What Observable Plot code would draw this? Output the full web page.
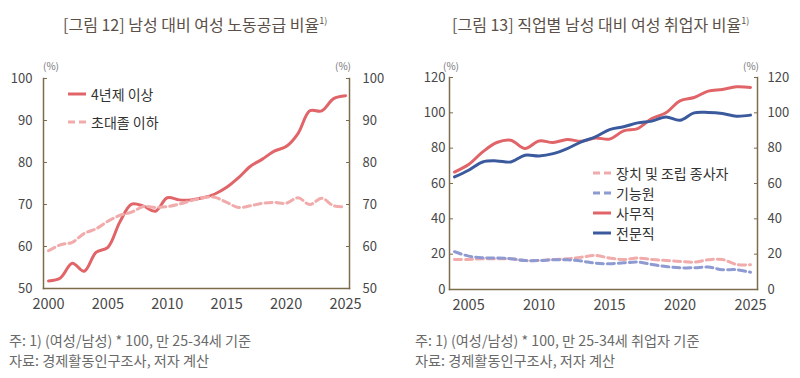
<!DOCTYPE html>
<html><head><meta charset="utf-8">
<script src="https://cdn.jsdelivr.net/npm/d3@7"></script>
<script src="https://cdn.jsdelivr.net/npm/@observablehq/plot@0.6"></script>
<style>
html,body{margin:0;padding:0;background:#fff}
body{width:800px;height:378px;position:relative;overflow:hidden;font-family:"Noto Sans CJK KR","Noto Sans",sans-serif}
.abs{position:absolute;white-space:nowrap}
.title{font-size:16px;color:#5b5048;top:13px;line-height:22px}
.title sup{font-size:9px;vertical-align:7px;line-height:0}
.note{font-size:14.2px;color:#6a6a6a;line-height:20px}
.unit{font-size:10px;color:#777;top:58px}
.leg{font-size:14px;color:#333;display:flex;align-items:center;height:20px}
.leg svg{margin-right:5px}
.chart{position:absolute;top:60px}
</style></head><body>
<div class="abs title" style="left:63px">[그림 12] 남성 대비 여성 노동공급 비율<sup>1)</sup></div>
<div class="abs title" style="left:452px">[그림 13] 직업별 남성 대비 여성 취업자 비율<sup>1)</sup></div>
<div class="abs unit" style="left:43px">(%)</div>
<div class="abs unit" style="left:335px">(%)</div>
<div class="abs unit" style="left:443px">(%)</div>
<div class="abs unit" style="left:743px">(%)</div>
<div id="c1" class="chart" style="left:0px"></div>
<div id="c2" class="chart" style="left:400px"></div>
<div id="leg1"></div>
<div id="leg2"></div>
<div class="abs note" style="left:9px;top:330px">주: 1) (여성/남성) * 100, 만 25-34세 기준</div>
<div class="abs note" style="left:9px;top:350px">자료: 경제활동인구조사, 저자 계산</div>
<div class="abs note" style="left:415px;top:330px">주: 1) (여성/남성) * 100, 만 25-34세 취업자 기준</div>
<div class="abs note" style="left:415px;top:350px">자료: 경제활동인구조사, 저자 계산</div>
<script>
// ---- Chart 1 data ----
const years1 = [2000,2001,2002,2003,2004,2005,2006,2007,2008,2009,2010,2011,2012,2013,2014,2015,2016,2017,2018,2019,2020,2021,2022,2023,2024,2025];
const univ = [51.8,52.5,56.0,54.1,58.6,59.8,65.8,70.1,69.6,68.4,71.6,71.1,71.1,71.6,72.5,74.1,76.4,79.1,80.8,82.7,83.8,86.9,92.3,92.3,95.2,95.9];
const college = [59.0,60.4,61.0,63.1,64.2,66.0,67.4,68.2,69.5,69.3,69.5,70.1,70.9,71.6,71.7,70.5,69.3,69.7,70.3,70.5,70.3,71.6,70.0,71.5,69.7,69.5];
const series1 = ["4년제 이상","초대졸 이하"];
const xTicks1 = [2000,2005,2010,2015,2020,2025];
const yTicks1 = [50,60,70,80,90,100];

// ---- Chart 2 data ----
const years2 = [2004,2005,2006,2007,2008,2009,2010,2011,2012,2013,2014,2015,2016,2017,2018,2019,2020,2021,2022,2023,2024,2025];
const machine = [17.0,17.0,17.4,17.4,17.4,16.4,16.4,17.0,17.4,18.3,19.3,17.8,17.0,17.8,17.0,16.4,15.9,15.5,16.8,17.0,14.2,14.0];
const craft = [21.4,18.9,18.0,17.8,17.4,16.4,16.4,16.8,16.8,16.1,14.9,14.6,15.1,15.5,14.2,13.0,12.3,12.3,12.7,11.2,11.2,9.8];
const clerical = [66.5,70.7,77.9,83.2,84.5,79.8,84.1,83.2,84.9,83.9,85.8,85.1,89.8,91.1,96.8,100.0,106.8,108.7,112.3,113.2,114.7,114.4];
const professional = [63.7,67.5,72.2,72.8,72.2,76.0,75.6,76.9,79.8,83.6,86.4,90.5,92.1,94.3,95.3,97.7,95.8,100.0,100.2,99.6,98.1,98.7];
const series2 = ["장치 및 조립 종사자","기능원","사무직","전문직"];
const xTicks2 = [2005,2010,2015,2020,2025];
const yTicks2 = [0,20,40,60,80,100,120];

const RED = "#e06468", PINK = "#f1abab", BLUE = "#3b5a9d", LBLUE = "#8e9ad2", AXIS = "#7d6c4c";
const styles1 = {"4년제 이상":{stroke:RED,dash:null},"초대졸 이하":{stroke:PINK,dash:"7,4"}};
const styles2 = {"장치 및 조립 종사자":{stroke:PINK,dash:"7,4"},"기능원":{stroke:LBLUE,dash:"7,4"},"사무직":{stroke:RED,dash:null},"전문직":{stroke:BLUE,dash:null}};

const data1 = [];
years1.forEach((y,i)=>{data1.push({year:y,v:univ[i],s:series1[0]});data1.push({year:y,v:college[i],s:series1[1]});});
const data2 = [];
const vals2 = [machine,craft,clerical,professional];
years2.forEach((y,i)=>{series2.forEach((s,k)=>data2.push({year:y,v:vals2[k][i],s}));});

const font = {fontFamily:'"Noto Sans CJK KR","Noto Sans",sans-serif',fontSize:"13px",color:"#484848",background:"transparent",overflow:"visible"};

function lines(data, series, styles){
  return series.map(s=>Plot.line(data.filter(d=>d.s===s),{x:"year",y:"v",stroke:styles[s].stroke,strokeWidth:3,strokeDasharray:styles[s].dash||undefined,curve:"catmull-rom"}));
}

const c1 = Plot.plot({
  width:400,height:260,marginLeft:43,marginRight:51,marginTop:18,marginBottom:32,
  style:font,
  x:{domain:[2000,2025],insetLeft:5,insetRight:4},
  y:{domain:[50,100]},
  marks:[
    ...lines(data1,series1,styles1),
    Plot.frame({anchor:"left",stroke:AXIS,strokeWidth:1.5}),
    Plot.frame({anchor:"right",stroke:AXIS,strokeWidth:1.5}),
    Plot.frame({anchor:"bottom",stroke:AXIS,strokeWidth:1.5}),
    Plot.axisY({anchor:"left",ticks:yTicks1,tickSize:-4,tickPadding:15,stroke:AXIS,label:null}),
    Plot.axisY({anchor:"right",ticks:yTicks1,tickSize:-4,tickPadding:17,stroke:AXIS,label:null}),
    Plot.axisX({ticks:xTicks1,tickSize:0,tickPadding:10,label:null,fontSize:14.5,tickFormat:d=>String(d)})
  ]
});
document.getElementById("c1").appendChild(c1);

const c2 = Plot.plot({
  width:400,height:260,marginLeft:49,marginRight:43,marginTop:17,marginBottom:31,
  style:font,
  x:{domain:[2004,2025],insetLeft:5,insetRight:7},
  y:{domain:[0,120]},
  marks:[
    ...lines(data2,series2,styles2),
    Plot.frame({anchor:"left",stroke:AXIS,strokeWidth:1.5}),
    Plot.frame({anchor:"right",stroke:AXIS,strokeWidth:1.5}),
    Plot.frame({anchor:"bottom",stroke:AXIS,strokeWidth:1.5}),
    Plot.axisY({anchor:"left",ticks:yTicks2,tickSize:-4,tickPadding:8,stroke:AXIS,label:null}),
    Plot.axisY({anchor:"right",ticks:yTicks2,tickSize:-4,tickPadding:14,stroke:AXIS,label:null}),
    Plot.axisX({ticks:xTicks2,tickSize:0,tickPadding:10,label:null,fontSize:14.5,tickFormat:d=>String(d)})
  ]
});
document.getElementById("c2").appendChild(c2);

function legend(el, series, styles, left, top, gap){
  const box = document.getElementById(el);
  series.forEach((s,i)=>{
    const d = document.createElement("div");
    d.className = "abs leg";
    d.style.left = left+"px"; d.style.top = (top+i*gap-10)+"px";
    const st = styles[s];
    d.innerHTML = `<svg width="18" height="6"><line x1="0" y1="3" x2="18" y2="3" stroke="${st.stroke}" stroke-width="3" ${st.dash?`stroke-dasharray="${st.dash}"`:""}/></svg><span>${s}</span>`;
    box.appendChild(d);
  });
}
legend("leg1",series1,styles1,68,94,28);
legend("leg2",series2,styles2,593,173,20);
</script>
</body></html>
